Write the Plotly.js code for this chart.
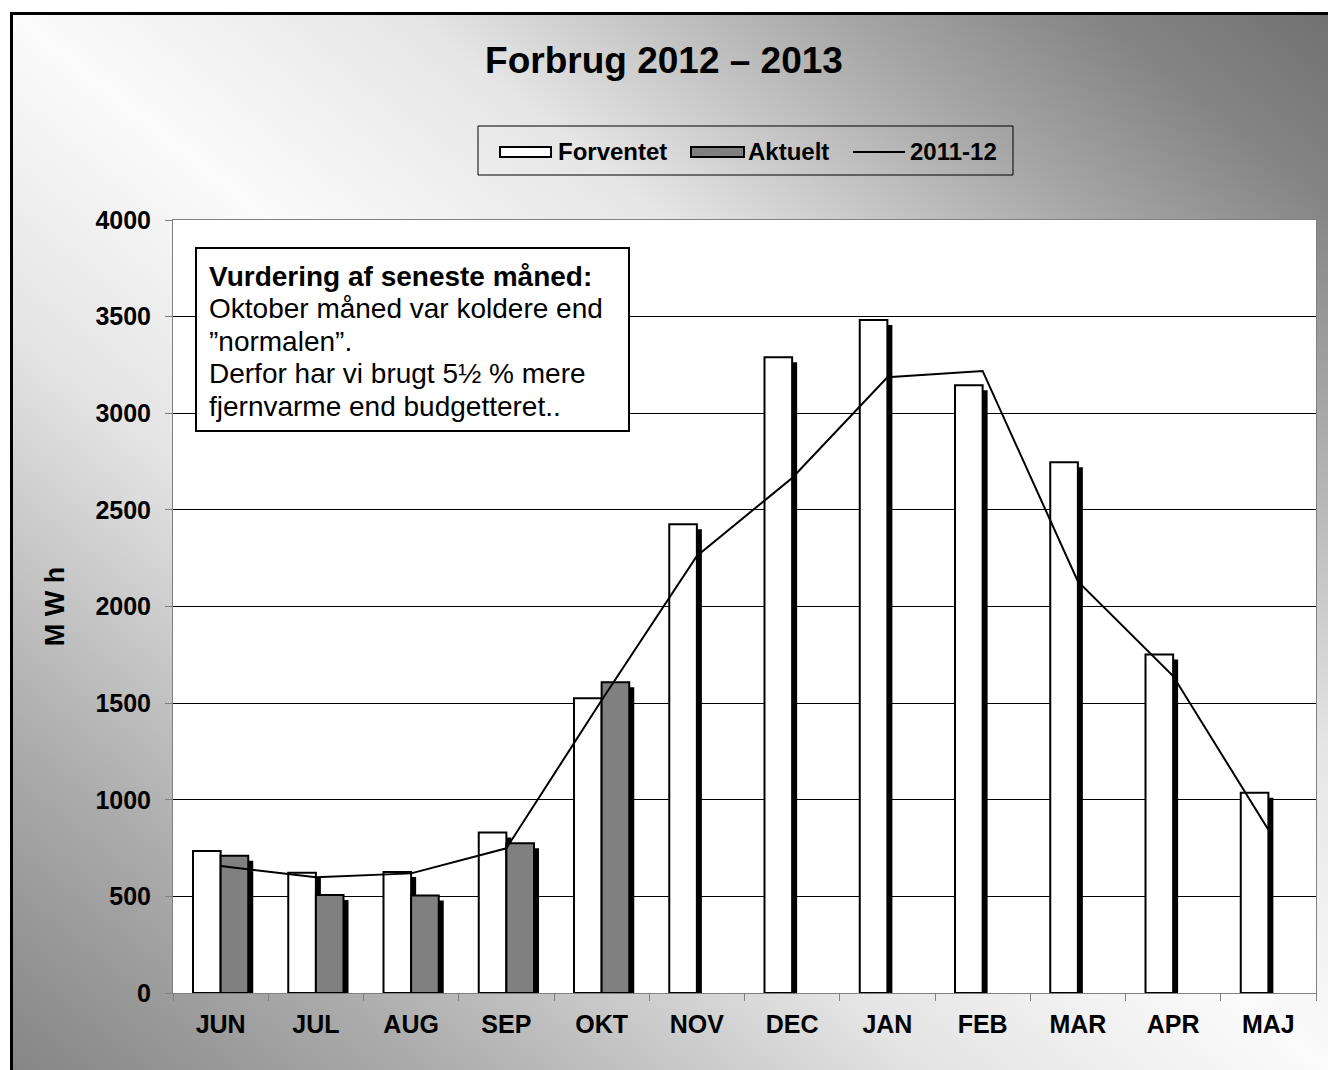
<!DOCTYPE html>
<html><head><meta charset="utf-8">
<script src="https://cdn.plot.ly/plotly-3.0.1.min.js"></script>
<style>
html,body{margin:0;padding:0;background:#fff;}
#wrap{position:relative;width:1328px;height:1070px;overflow:hidden;}
#bg{position:absolute;left:10px;top:12px;width:1318px;height:1058px;box-sizing:border-box;border-left:3px solid #000;border-top:3px solid #000;
background:linear-gradient(to bottom left,#717171 0%,#858585 9%,#a4a4a4 18%,#e6e6e6 35%,#fbfbfb 50%,#e4e4e4 65%,#acacac 84%,#969696 93%,#868686 100%);}
#chart{position:absolute;left:0;top:0;width:1328px;height:1070px;}
</style></head><body>
<div id="wrap"><div id="bg"></div><div id="chart"></div></div>
<script>
// ---- data ----
const months = ["JUN","JUL","AUG","SEP","OKT","NOV","DEC","JAN","FEB","MAR","APR","MAJ"];
const forventet = [735, 622, 626, 830, 1525, 2425, 3290, 3483, 3145, 2746, 1751, 1036];
const aktuelt = [710, 507, 504, 775, 1608, null, null, null, null, null, null, null];
const prev1112 = [657, 599, 619, 749, 1515, 2262, 2665, 3186, 3219, 2130, 1640, 845];
const yTicks = [0, 500, 1000, 1500, 2000, 2500, 3000, 3500, 4000];
const seriesNames = ["Forventet", "Aktuelt", "2011-12"];
const titleText = "Forbrug 2012 \u2013 2013";
const yTitle = "M W h";
const noteLines = ["<b>Vurdering af seneste m\u00e5ned:</b>", "Oktober m\u00e5ned var koldere end", "\u201dnormalen\u201d.", "Derfor har vi brugt 5\u00bd % mere", "fjernvarme end budgetteret.."];

// ---- geometry ----
const W = 1328, H = 1070, L = 173, R = 1316, T = 220, B = 993;
const X = px => (px - L) / (R - L);
const Y = py => (B - py) / (B - T);
const catPx = (R - L) / months.length;
const barW = 0.29;
const shX = 5 / catPx;              // shadow offset in category units
const shY = 5 * 4000 / (B - T);     // shadow offset in value units
const FONT = "'Liberation Sans', Arial, sans-serif";
const GRAY = "#808080";

const traces = [
  {type: "bar", x: months, y: forventet, base: -shY, offset: -barW + shX, width: barW,
   marker: {color: "#000", line: {width: 0}}, showlegend: false, hoverinfo: "skip"},
  {type: "bar", x: months, y: aktuelt, base: -shY, offset: shX, width: barW,
   marker: {color: "#000", line: {width: 0}}, showlegend: false, hoverinfo: "skip"},
  {type: "bar", name: seriesNames[0], x: months, y: forventet, offset: -barW, width: barW,
   marker: {color: "#ffffff", line: {color: "#000", width: 2}}, showlegend: false},
  {type: "bar", name: seriesNames[1], x: months, y: aktuelt, offset: 0, width: barW,
   marker: {color: GRAY, line: {color: "#000", width: 2}}, showlegend: false},
  {type: "scatter", mode: "lines", name: seriesNames[2], x: months, y: prev1112,
   line: {color: "#000", width: 2}, showlegend: false}
];

const shapes = [
  // legend box
  {type: "rect", xref: "paper", yref: "paper", x0: X(478), x1: X(1013), y0: Y(126), y1: Y(175),
   line: {color: "#000", width: 1}, fillcolor: "rgba(0,0,0,0)"},
  {type: "rect", xref: "paper", yref: "paper", x0: X(500), x1: X(551), y0: Y(147), y1: Y(157),
   line: {color: "#000", width: 2}, fillcolor: "#ffffff"},
  {type: "rect", xref: "paper", yref: "paper", x0: X(691), x1: X(744), y0: Y(147), y1: Y(157),
   line: {color: "#000", width: 2}, fillcolor: GRAY},
  {type: "line", xref: "paper", yref: "paper", x0: X(853), x1: X(905), y0: Y(152), y1: Y(152),
   line: {color: "#000", width: 2}},
  // note box
  {type: "rect", xref: "paper", yref: "paper", x0: X(196), x1: X(629), y0: Y(248), y1: Y(431),
   line: {color: "#000", width: 2}, fillcolor: "#ffffff"}
];

const legFont = {family: FONT, size: 24, color: "#000"};
const annotations = [
  {xref: "paper", yref: "paper", x: X(556), y: Y(152), xanchor: "left", yanchor: "middle",
   text: "<b>" + seriesNames[0] + "</b>", showarrow: false, font: legFont},
  {xref: "paper", yref: "paper", x: X(746), y: Y(152), xanchor: "left", yanchor: "middle",
   text: "<b>" + seriesNames[1] + "</b>", showarrow: false, font: legFont},
  {xref: "paper", yref: "paper", x: X(908), y: Y(152), xanchor: "left", yanchor: "middle",
   text: "<b>" + seriesNames[2] + "</b>", showarrow: false, font: legFont}
];
const noteY = [276, 308.5, 341, 373.5, 406];
noteLines.forEach((t, i) => annotations.push({
  xref: "paper", yref: "paper", x: X(207), y: Y(noteY[i]), xanchor: "left", yanchor: "middle",
  align: "left", text: t, showarrow: false, font: {family: FONT, size: 28, color: "#000"}
}));

const layout = {
  width: W, height: H,
  margin: {l: L, r: W - R, t: T, b: H - B, pad: 0},
  paper_bgcolor: "rgba(0,0,0,0)",
  plot_bgcolor: "#ffffff",
  barmode: "overlay",
  font: {family: FONT, color: "#000"},
  title: {text: "<b>" + titleText + "</b>", font: {family: FONT, size: 37, color: "#000"},
          xref: "container", x: 0.5, xanchor: "center", yref: "container", y: 1 - 60 / H, yanchor: "middle"},
  xaxis: {type: "category", range: [-0.5, months.length - 0.5], showgrid: false,
          showline: true, linecolor: GRAY, linewidth: 1, mirror: true,
          ticks: "outside", tickson: "boundaries", ticklen: 7, tickcolor: GRAY, tickwidth: 1,
          tickfont: {family: FONT, size: 25, color: "#000", weight: "bold"}, ticklabelstandoff: 9,
          fixedrange: true},
  yaxis: {range: [0, 4000], tickvals: yTicks, ticktext: yTicks.map(String),
          showgrid: true, gridcolor: "#000", gridwidth: 1, zeroline: false,
          showline: true, linecolor: GRAY, linewidth: 1, mirror: true,
          ticks: "outside", ticklen: 7, tickcolor: GRAY, tickwidth: 1,
          tickfont: {family: FONT, size: 25, color: "#000", weight: "bold"}, ticklabelstandoff: 9,
          title: {text: "<b>" + yTitle + "</b>", font: {family: FONT, size: 27, color: "#000"}, standoff: 22},
          fixedrange: true},
  shapes: shapes,
  annotations: annotations
};

Plotly.newPlot("chart", traces, layout, {displayModeBar: false, staticPlot: true});
</script>
</body></html>
